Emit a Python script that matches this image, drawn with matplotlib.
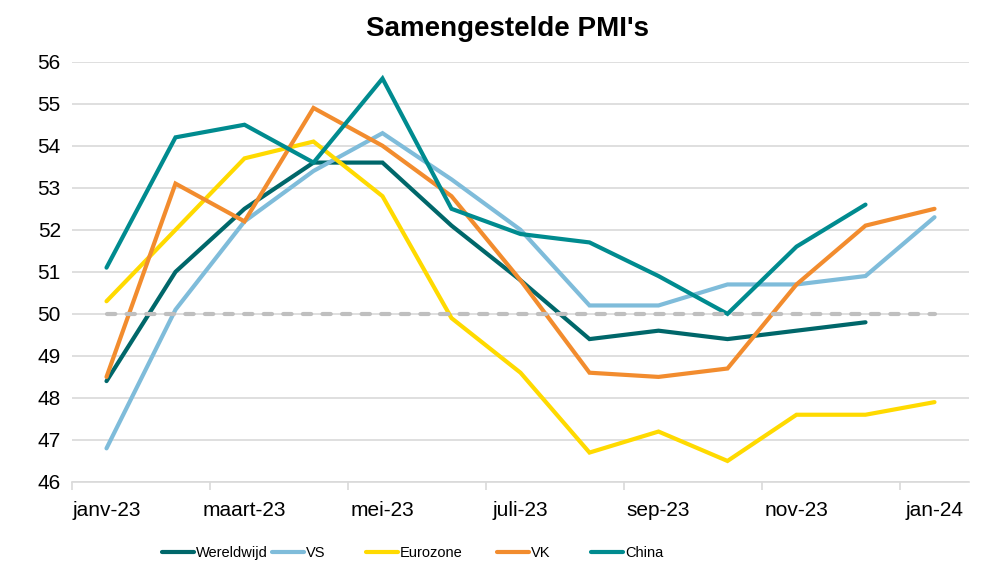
import matplotlib
matplotlib.use("Agg")
import matplotlib.pyplot as plt
from matplotlib.lines import Line2D
import numpy as np

plt.rcParams['font.family'] = ['Liberation Sans', 'DejaVu Sans']

months = ["jan-23", "feb-23", "mrt-23", "apr-23", "mei-23", "jun-23", "jul-23",
          "aug-23", "sep-23", "okt-23", "nov-23", "dec-23", "jan-24"]
tick_labels = ["janv-23", "maart-23", "mei-23", "juli-23", "sep-23", "nov-23", "jan-24"]

wereldwijd = [48.4, 51.0, 52.5, 53.6, 53.6, 52.1, 50.8, 49.4, 49.6, 49.4, 49.6, 49.8]
vs = [46.8, 50.1, 52.2, 53.4, 54.3, 53.2, 52.0, 50.2, 50.2, 50.7, 50.7, 50.9, 52.3]
eurozone = [50.3, 52.0, 53.7, 54.1, 52.8, 49.9, 48.6, 46.7, 47.2, 46.5, 47.6, 47.6, 47.9]
vk = [48.5, 53.1, 52.2, 54.9, 54.0, 52.8, 50.8, 48.6, 48.5, 48.7, 50.7, 52.1, 52.5]
china = [51.1, 54.2, 54.5, 53.6, 55.6, 52.5, 51.9, 51.7, 50.9, 50.0, 51.6, 52.6]
threshold = 50

series = [
    ("Wereldwijd", wereldwijd, "#00676A"),
    ("VS", vs, "#7FBCDA"),
    ("Eurozone", eurozone, "#FFDA00"),
    ("VK", vk, "#F28C2E"),
    ("China", china, "#008B8F"),
]

fig = plt.figure(figsize=(10, 5.8), dpi=100)
ax = fig.add_axes([0.072, 0.169, 0.897, 0.7246])

x_all = np.arange(len(months))
for name, vals, col in series:
    ax.plot(x_all[:len(vals)], vals, color=col, lw=3.0, solid_capstyle='round',
            solid_joinstyle='miter', zorder=3)

ax.plot([x_all[0], x_all[-1]], [threshold, threshold], color="#BFBFBF", lw=3.0,
        dashes=(2.0, 2.7), dash_capstyle='round', zorder=4)

ax.set_xlim(-0.5, len(months) - 0.5)
ax.set_ylim(46, 56)
ax.set_yticks(np.arange(46, 57, 1))
ax.grid(axis='y', color="#D9D9D9", lw=1.2, zorder=0)
ax.set_axisbelow(True)

ax.set_xticks(x_all[::2])
ax.set_xticklabels(tick_labels)
ax.set_xticks(np.arange(-0.5, len(months) - 0.5, 2), minor=True)
ax.tick_params(axis='x', which='major', length=0, pad=14, labelsize=15)
ax.tick_params(axis='x', which='minor', length=6, width=1.2, color="#D9D9D9")
ax.tick_params(axis='y', length=0, pad=8, labelsize=15)

for s in ['top', 'right', 'left']:
    ax.spines[s].set_visible(False)
ax.spines['bottom'].set_color("#D9D9D9")
ax.spines['bottom'].set_linewidth(1.2)

fig.text(0.507, 0.950, "Samengestelde PMI's", ha='center', va='center',
         fontsize=20, fontweight='bold')

legend_x = [0.162, 0.272, 0.366, 0.497, 0.591]
for (name, vals, col), lx in zip(series, legend_x):
    h = Line2D([0], [0], color=col, lw=3.0, solid_capstyle='round')
    fig.legend([h], [name], loc='center left', bbox_to_anchor=(lx, 1 - 553 / 580),
               frameon=False, prop={'size': 10.5},
               handlelength=2.2, handletextpad=0.12, borderpad=0, borderaxespad=0)

fig.savefig("out.png", dpi=100)
